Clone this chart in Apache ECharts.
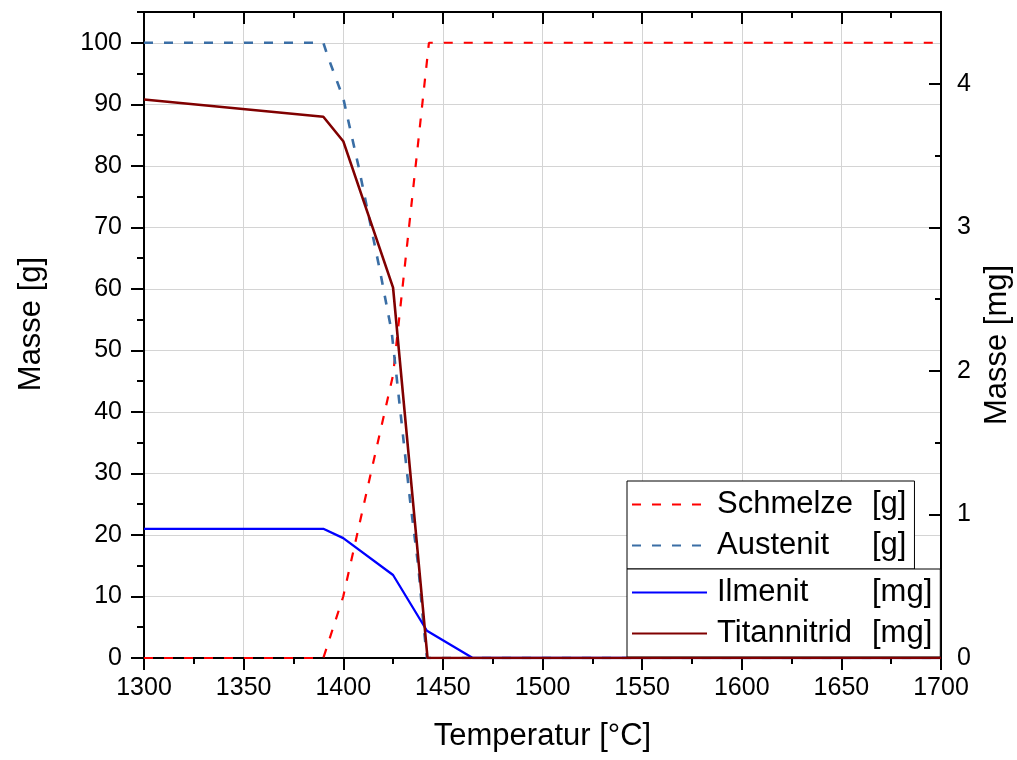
<!DOCTYPE html>
<html>
<head>
<meta charset="utf-8">
<script src="https://cdn.jsdelivr.net/npm/echarts@6/dist/echarts.min.js"></script>
<style>
html,body{margin:0;padding:0;background:#fff;}
#chart{width:1017px;height:760px;}
</style>
</head>
<body>
<div id="chart"></div>
<script>
// ---- data ----
const xTicks = [1300, 1350, 1400, 1450, 1500, 1550, 1600, 1650, 1700];
const leftTicks = [0, 10, 20, 30, 40, 50, 60, 70, 80, 90, 100];
const rightTicks = [0, 1, 2, 3, 4];

const schmelzeT = [1300, 1390, 1400, 1415, 1425, 1443, 1700];
const schmelzeV = [0, 0, 10, 31.7, 46, 100, 100];

const austenitT = [1300, 1390, 1392, 1396, 1400, 1407.6, 1418.4, 1424.3, 1429.3, 1433.5, 1437.7, 1440.2, 1442, 1700];
const austenitV = [100, 100, 98, 94.5, 91, 80, 63, 53, 38.2, 25.7, 14.8, 5.6, 0, 0];

const ilmenitT = [1300, 1390, 1400, 1425, 1442, 1465, 1700];
const ilmenitV = [0.90, 0.90, 0.835, 0.578, 0.19, 0, 0];

const titanT = [1300, 1390, 1400, 1425, 1442.3, 1700];
const titanV = [3.89, 3.77, 3.60, 2.58, 0, 0];

const seriesNames = ['Schmelze [g]', 'Austenit [g]', 'Ilmenit [mg]', 'Titannitrid [mg]'];

function pairs(t, v) { return t.map((x, i) => [x, v[i]]); }

const FONT = 'Liberation Sans, Arial, sans-serif';
const black = '#000';

const chart = echarts.init(document.getElementById('chart'), null, {renderer: 'canvas'});

const legendText = {
  fontFamily: FONT, fontSize: 31, color: black, lineHeight: 41,
  rich: {
    n: {fontFamily: FONT, fontSize: 31, color: black, width: 155, padding: [0, 0, 0, 5], lineHeight: 41, height: 41},
    u: {fontFamily: FONT, fontSize: 31, color: black, lineHeight: 41, height: 41}
  }
};
function legendFmt(name) {
  const i = name.indexOf(' [');
  return '{n|' + name.slice(0, i) + '}{u|' + name.slice(i + 1) + '}';
}

const legendBase = {
  orient: 'vertical', left: 627, itemGap: 0, itemWidth: 75, itemHeight: 14,
  backgroundColor: '#fff', borderColor: black, borderWidth: 1,
  itemStyle: {color: 'rgba(0,0,0,0)', borderWidth: 0, opacity: 0},
  textStyle: legendText, formatter: legendFmt
};

const option = {
  animation: false,
  backgroundColor: '#fff',
  grid: {left: 144, right: 76, top: 12, bottom: 102, containLabel: false, outerBoundsMode: 'none'},
  legend: [
    Object.assign({}, legendBase, {
      data: [seriesNames[0], seriesNames[1]], top: 481, padding: [3, 8, 3, 4]
    }),
    Object.assign({}, legendBase, {
      data: [seriesNames[2], seriesNames[3]], top: 569, padding: [3, 8, 3, 4]
    })
  ],
  xAxis: [
    {
      type: 'value', position: 'bottom', min: 1300, max: 1700, interval: 50,
      name: 'Temperatur [°C]', nameLocation: 'middle', nameGap: 63,
      nameTextStyle: {fontFamily: FONT, fontSize: 31, color: black},
      axisLine: {show: true, onZero: false, lineStyle: {color: black, width: 2}},
      axisTick: {show: true, inside: false, length: 12, lineStyle: {color: black, width: 2}},
      minorTick: {show: true, splitNumber: 2, length: 6, lineStyle: {color: black, width: 2}},
      axisLabel: {fontFamily: FONT, fontSize: 25, color: black, margin: 18,
        customValues: xTicks, formatter: v => String(v)},
      splitLine: {show: true, lineStyle: {color: '#d4d4d4', width: 1}}
    },
    {
      type: 'value', position: 'top', min: 1300, max: 1700, interval: 50,
      axisLine: {show: true, onZero: false, lineStyle: {color: black, width: 2}},
      axisTick: {show: true, inside: true, length: 12, lineStyle: {color: black, width: 2}},
      minorTick: {show: true, splitNumber: 2, length: 6, lineStyle: {color: black, width: 2}},
      axisLabel: {show: false},
      splitLine: {show: false}
    }
  ],
  yAxis: [
    {
      type: 'value', position: 'left', min: 0, max: 105, interval: 5,
      axisLine: {show: true, onZero: false, lineStyle: {color: black, width: 2}},
      axisTick: {show: true, inside: false, length: 7, lineStyle: {color: black, width: 2}},
      axisLabel: {show: false},
      splitLine: {show: false}
    },
    {
      type: 'value', position: 'left', min: 0, max: 105, interval: 10,
      name: 'Masse [g]', nameLocation: 'middle', nameGap: 97, nameRotate: 90,
      nameTextStyle: {fontFamily: FONT, fontSize: 31, color: black, padding: [0, 0, 0, 22]},
      axisLine: {show: true, onZero: false, lineStyle: {color: black, width: 2}},
      axisTick: {show: true, inside: false, length: 13, customValues: leftTicks, lineStyle: {color: black, width: 2}},
      axisLabel: {fontFamily: FONT, fontSize: 25, color: black, margin: 22, customValues: leftTicks},
      splitLine: {show: true, lineStyle: {color: '#d4d4d4', width: 1}}
    },
    {
      type: 'value', position: 'right', min: 0, max: 4.5, interval: 0.5,
      axisLine: {show: true, onZero: false, lineStyle: {color: black, width: 2}},
      axisTick: {show: true, inside: true, length: 6, lineStyle: {color: black, width: 2}},
      axisLabel: {show: false},
      splitLine: {show: false}
    },
    {
      type: 'value', position: 'right', min: 0, max: 4.5, interval: 1,
      name: 'Masse [mg]', nameLocation: 'middle', nameGap: 38, nameRotate: 90,
      nameTextStyle: {fontFamily: FONT, fontSize: 31, color: black, padding: [0, 20, 0, 0]},
      axisLine: {show: true, onZero: false, lineStyle: {color: black, width: 2}},
      axisTick: {show: true, inside: true, length: 12, customValues: rightTicks, lineStyle: {color: black, width: 2}},
      axisLabel: {fontFamily: FONT, fontSize: 25, color: black, margin: 16, customValues: rightTicks},
      splitLine: {show: false}
    }
  ],
  series: [
    {
      name: seriesNames[0], type: 'line', xAxisIndex: 0, yAxisIndex: 0,
      data: pairs(schmelzeT, schmelzeV), showSymbol: false, symbol: 'none',
      color: '#ff0000', lineStyle: {color: '#ff0000', width: 2.2, type: [9, 11]}, z: 3
    },
    {
      name: seriesNames[1], type: 'line', xAxisIndex: 0, yAxisIndex: 0,
      data: pairs(austenitT, austenitV), showSymbol: false, symbol: 'none',
      color: '#3a6ea5', lineStyle: {color: '#3a6ea5', width: 2.6, type: [9, 11]}, z: 3
    },
    {
      name: seriesNames[2], type: 'line', xAxisIndex: 0, yAxisIndex: 2,
      data: pairs(ilmenitT, ilmenitV), showSymbol: false, symbol: 'none',
      color: '#0000ff', lineStyle: {color: '#0000ff', width: 2.3}, z: 3
    },
    {
      name: seriesNames[3], type: 'line', xAxisIndex: 0, yAxisIndex: 2,
      data: pairs(titanT, titanV), showSymbol: false, symbol: 'none',
      color: '#800000', lineStyle: {color: '#800000', width: 2.6}, z: 4
    }
  ]
};
chart.setOption(option);
</script>
</body>
</html>
